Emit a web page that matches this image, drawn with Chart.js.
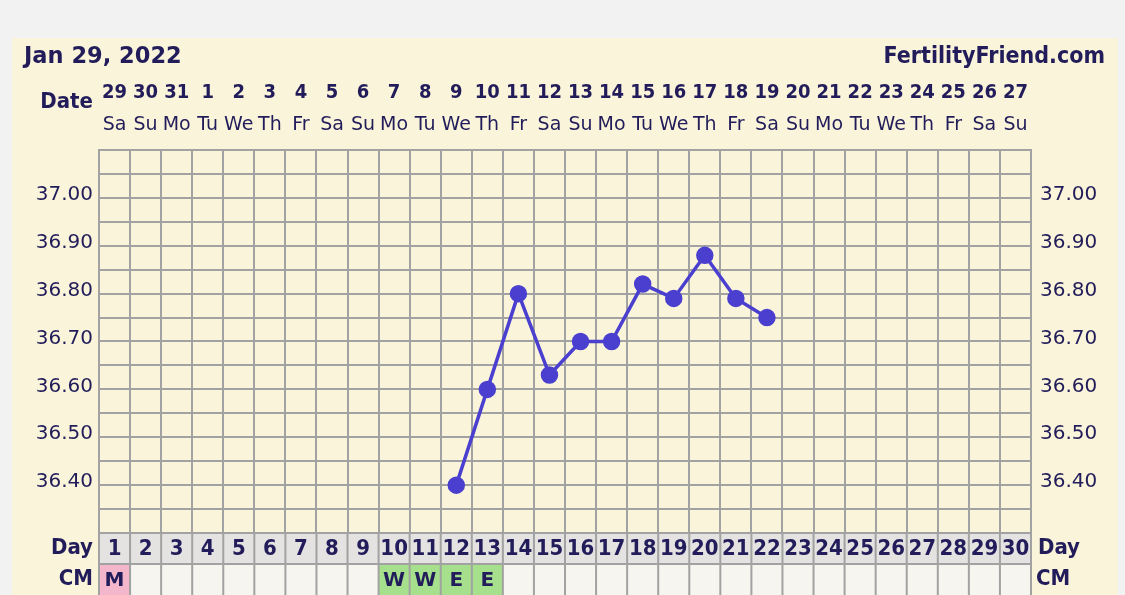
<!DOCTYPE html>
<html>
<head>
<meta charset="utf-8">
<script src="https://cdn.jsdelivr.net/npm/chart.js"></script>
<style>
  html, body { margin: 0; padding: 0; background: #f2f2f2; }
  #wrap { position: relative; width: 1125px; height: 595px; }
</style>
</head>
<body>
<div id="wrap"><canvas id="bbt" width="1125" height="595"></canvas></div>
<script>
// cycle data
const cycleDays = ['1','2','3','4','5','6','7','8','9','10','11','12','13','14','15',
                   '16','17','18','19','20','21','22','23','24','25','26','27','28','29','30'];
const dateNums = ['29','30','31','1','2','3','4','5','6','7','8','9','10','11','12',
                  '13','14','15','16','17','18','19','20','21','22','23','24','25','26','27'];
const weekDays = ['Sa','Su','Mo','Tu','We','Th','Fr','Sa','Su','Mo','Tu','We','Th','Fr','Sa',
                  'Su','Mo','Tu','We','Th','Fr','Sa','Su','Mo','Tu','We','Th','Fr','Sa','Su'];
const temps = [null, null, null, null, null, null, null, null, null, null, null,
               36.40, 36.60, 36.80, 36.63, 36.70, 36.70, 36.82, 36.79, 36.88, 36.79, 36.75,
               null, null, null, null, null, null, null, null];
const cmCodes = ['M','','','','','','','','','W','W','E','E','','',
                 '','','','','','','','','','','','','','',''];
const cmColors = { M: '#f3b6ca', W: '#a6e08c', E: '#a6e08c' };
const tempMin = 36.30;
const tempMax = 37.10;

const INK = '#221d5a';
const GRID = '#a2a2a2';
const CREAM = '#faf5da';
const COND = '"DejaVu Sans Condensed", "DejaVu Sans", sans-serif';

function tempLabel(v) {
    const r = Math.round(v * 100);
    return (r % 10 === 0 && r >= 3640 && r <= 3700) ? (r / 100).toFixed(2) : '';
}

const chartFrame = {
    id: 'chartFrame',
    beforeDraw(chart) {
        const ctx = chart.ctx;
        ctx.save();
        ctx.fillStyle = '#f2f2f2';
        ctx.fillRect(0, 0, chart.width, chart.height);
        ctx.fillStyle = CREAM;
        ctx.fillRect(12, 38, 1106, chart.height - 38);
        ctx.restore();
    },
    afterDraw(chart) {
        const ctx = chart.ctx;
        const x = chart.scales.x;
        const area = chart.chartArea;
        const colW = (area.right - area.left) / cycleDays.length;
        ctx.save();
        ctx.fillStyle = INK;

        // title row
        ctx.textBaseline = 'alphabetic';
        ctx.textAlign = 'left';
        ctx.font = 'bold 22.5px "DejaVu Sans", sans-serif';
        ctx.fillText('Jan 29, 2022', 24, 63);
        ctx.textAlign = 'right';
        ctx.font = 'bold 23px ' + COND;
        ctx.fillText('FertilityFriend.com', 1105, 63);

        // date header
        ctx.textAlign = 'right';
        ctx.textBaseline = 'middle';
        ctx.font = 'bold 22px ' + COND;
        ctx.fillText('Date', 93, 102);
        ctx.textAlign = 'center';
        ctx.font = 'bold 20px ' + COND;
        dateNums.forEach((d, i) => ctx.fillText(d, x.getPixelForValue(i), 93));
        ctx.font = '19px "DejaVu Sans", sans-serif';
        weekDays.forEach((d, i) => ctx.fillText(d, x.getPixelForValue(i), 125));

        // day and CM rows
        const dayTop = area.bottom, dayH = 31, cmTop = dayTop + dayH, cmH = chart.height - cmTop;
        cycleDays.forEach((d, i) => {
            const left = x.getPixelForValue(i) - colW / 2;
            ctx.fillStyle = '#e4e3e1';
            ctx.fillRect(left, dayTop, colW, dayH);
            ctx.fillStyle = cmColors[cmCodes[i]] || '#f6f5ef';
            ctx.fillRect(left, cmTop, colW, cmH);
        });
        ctx.strokeStyle = GRID;
        ctx.lineWidth = 2;
        ctx.beginPath();
        for (let i = 0; i <= cycleDays.length; i++) {
            const lx = area.left + i * colW;
            ctx.moveTo(lx, dayTop);
            ctx.lineTo(lx, chart.height);
        }
        ctx.moveTo(area.left, dayTop);
        ctx.lineTo(area.right, dayTop);
        ctx.moveTo(area.left, cmTop);
        ctx.lineTo(area.right, cmTop);
        ctx.stroke();

        ctx.fillStyle = INK;
        ctx.font = 'bold 22px ' + COND;
        cycleDays.forEach((d, i) => ctx.fillText(d, x.getPixelForValue(i), dayTop + dayH / 2 + 1));
        ctx.font = 'bold 20px "DejaVu Sans", sans-serif';
        cmCodes.forEach((c, i) => { if (c) ctx.fillText(c, x.getPixelForValue(i), cmTop + cmH / 2 + 1); });

        ctx.font = 'bold 22px ' + COND;
        ctx.textAlign = 'right';
        ctx.fillText('Day', 93, dayTop + dayH / 2);
        ctx.fillText('CM', 93, cmTop + cmH / 2);
        ctx.textAlign = 'left';
        ctx.fillText('Day', 1038, dayTop + dayH / 2);
        ctx.fillText('CM', 1036, cmTop + cmH / 2);
        ctx.restore();
    }
};

const tickFont = { family: '"DejaVu Sans", sans-serif', size: 20 };

new Chart(document.getElementById('bbt'), {
    type: 'line',
    data: {
        labels: cycleDays,
        datasets: [{
            data: temps,
            borderColor: '#4a3fcf',
            backgroundColor: '#4a3fcf',
            borderWidth: 3.5,
            pointRadius: 7,
            pointHoverRadius: 7,
            tension: 0,
            spanGaps: false
        }]
    },
    options: {
        responsive: false,
        animation: false,
        devicePixelRatio: 1,
        layout: { padding: { top: 150, bottom: 62, left: 0, right: 0 } },
        plugins: { legend: { display: false }, tooltip: { enabled: false } },
        scales: {
            x: {
                type: 'category',
                offset: true,
                grid: { offset: true, color: GRID, lineWidth: 2, drawTicks: false },
                border: { color: GRID, width: 2 },
                ticks: { display: false },
                afterFit(scale) { scale.height = 0; }
            },
            y: {
                position: 'left',
                min: tempMin,
                max: tempMax,
                grid: { color: GRID, lineWidth: 2, drawTicks: false },
                border: { color: GRID, width: 2 },
                ticks: { stepSize: 0.05, autoSkip: false, padding: 6, labelOffset: -3, color: INK,
                         font: tickFont, callback: v => tempLabel(v) },
                afterFit(scale) { scale.width = 99; }
            },
            y2: {
                position: 'right',
                min: tempMin,
                max: tempMax,
                grid: { display: false, drawTicks: false },
                border: { color: GRID, width: 2 },
                ticks: { stepSize: 0.05, autoSkip: false, padding: 9, labelOffset: -3, color: INK,
                         font: tickFont, callback: v => tempLabel(v) },
                afterFit(scale) { scale.width = 94; }
            }
        }
    },
    plugins: [chartFrame]
});
</script>
</body>
</html>
